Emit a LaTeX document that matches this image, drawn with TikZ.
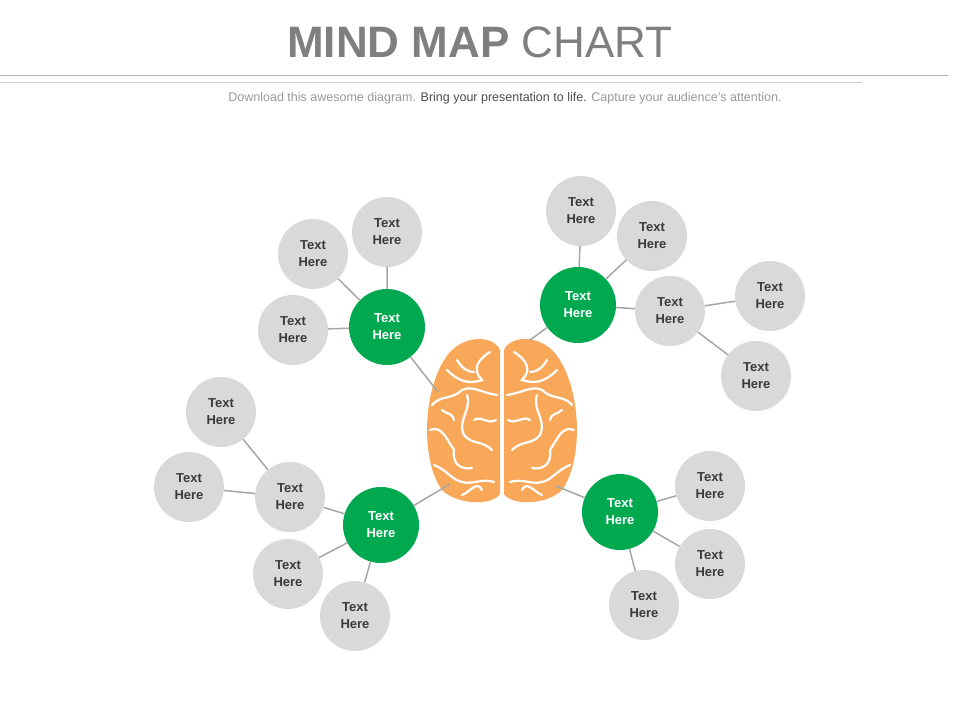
\documentclass[tikz,border=0pt]{standalone}
\usepackage{fontspec}
\setmainfont{Liberation Sans}
\begin{document}
\begin{tikzpicture}[x=1pt,y=-1pt,
  leaf/.style={circle,fill=gry,minimum size=70pt,inner sep=0pt,align=center,font=\fontsize{13}{17}\selectfont\bfseries,text=txt},
  hub/.style={circle,fill=grn,minimum size=76pt,inner sep=0pt,align=center,font=\fontsize{13}{17}\selectfont\bfseries,text=white},
  link/.style={draw=lin,line width=1.5pt},
  vein/.style={draw=white,line width=2.2pt,line cap=round}]
\definecolor{gry}{HTML}{D9D9D9}\definecolor{grn}{HTML}{00A850}
\definecolor{txt}{HTML}{3A3A3A}\definecolor{lin}{HTML}{A6A6A6}
\definecolor{org}{HTML}{F9A85A}\definecolor{ttl}{HTML}{7F7F7F}
\useasboundingbox (0,0) rectangle (960,720);
\node[font=\fontsize{44}{50}\selectfont,text=ttl] (title) at (480,42) {\textbf{MIND MAP} CHART};
\draw[gray!60,line width=1pt] (0,75) -- (948,75);
\draw[gray!35,line width=1pt] (0,82) -- (862,82);
\node[font=\fontsize{12.5}{14}\selectfont,text=ttl!80] (sub) at (505,98) {Download this awesome diagram. \textcolor{ttl!60!black}{Bring your presentation to life.} Capture your audience's attention.};
% brain
\coordinate (brain) at (502,418);
\foreach \s in {1,-1}{
\begin{scope}[shift={(502,0)},xscale=\s]
\fill[org] (-2,350) .. controls (-8,336) and (-35,334) .. (-52,352) .. controls (-80,385) and (-82,460) .. (-60,490) .. controls (-45,505) and (-10,506) .. (-2,494) -- cycle;
\draw[vein] (-12,352) .. controls (-25,360) and (-30,370) .. (-20,380) .. controls (-35,385) and (-45,380) .. (-55,370);
\draw[vein] (-5,395) .. controls (-20,393) and (-30,385) .. (-40,390) .. controls (-50,400) and (-62,395) .. (-70,405);
\draw[vein] (-35,395) .. controls (-30,410) and (-45,420) .. (-38,435) .. controls (-30,445) and (-20,440) .. (-10,450);
\draw[vein] (-72,430) .. controls (-60,425) and (-55,440) .. (-48,450) .. controls (-50,465) and (-40,470) .. (-30,468);
\draw[vein] (-6,420) .. controls (-15,425) and (-20,415) .. (-28,420);
\draw[vein] (-68,465) .. controls (-55,470) and (-50,480) .. (-40,482) .. controls (-30,485) and (-20,478) .. (-8,482);
\draw[vein] (-45,360) .. controls (-40,368) and (-35,372) .. (-28,372);
\draw[vein] (-60,410) .. controls (-55,415) and (-50,412) .. (-48,420);
\draw[vein] (-20,490) .. controls (-25,480) and (-32,492) .. (-40,495);
\end{scope}}
% hubs
\node[hub] (h1) at (387,327) {Text\\Here};
\node[hub] (h2) at (578,305) {Text\\Here};
\node[hub] (h3) at (381,525) {Text\\Here};
\node[hub] (h4) at (620,512) {Text\\Here};
\node[leaf] (a1) at (313,254) {Text\\Here};
\node[leaf] (a2) at (387,232) {Text\\Here};
\node[leaf] (a3) at (293,330) {Text\\Here};
\node[leaf] (b1) at (581,211) {Text\\Here};
\node[leaf] (b2) at (652,236) {Text\\Here};
\node[leaf] (b3) at (670,311) {Text\\Here};
\node[leaf] (b4) at (770,296) {Text\\Here};
\node[leaf] (b5) at (756,376) {Text\\Here};
\node[leaf] (c1) at (290,497) {Text\\Here};
\node[leaf] (c2) at (221,412) {Text\\Here};
\node[leaf] (c3) at (189,487) {Text\\Here};
\node[leaf] (c4) at (288,574) {Text\\Here};
\node[leaf] (c5) at (355,616) {Text\\Here};
\node[leaf] (d1) at (710,486) {Text\\Here};
\node[leaf] (d2) at (710,564) {Text\\Here};
\node[leaf] (d3) at (644,605) {Text\\Here};
\begin{scope}[on background layer/.style={}]
\end{scope}
\path[link] (h1) -- (438,392) (h2) -- (530,340) (h3) -- (450,484) (h4) -- (556,486)
 (h1) -- (a1) (h1) -- (a2) (h1) -- (a3)
 (h2) -- (b1) (h2) -- (b2) (h2) -- (b3) (b3) -- (b4) (b3) -- (b5)
 (h3) -- (c1) (c1) -- (c2) (c1) -- (c3) (h3) -- (c4) (h3) -- (c5)
 (h4) -- (d1) (h4) -- (d2) (h4) -- (d3);
\end{tikzpicture}
\end{document}
